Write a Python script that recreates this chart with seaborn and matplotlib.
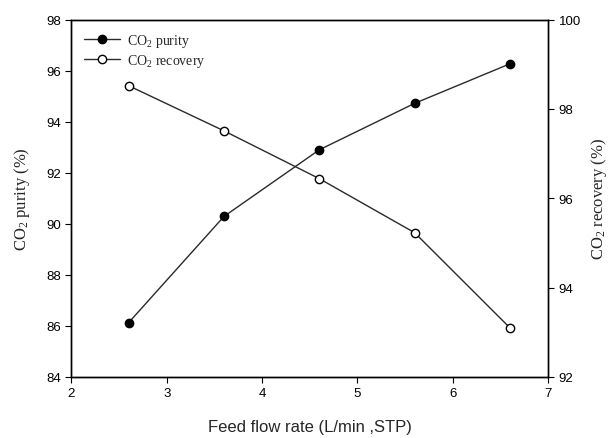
import matplotlib
matplotlib.use("Agg")
import matplotlib.pyplot as plt
import seaborn as sns
import pandas as pd
from matplotlib.lines import Line2D

flow_rate = [2.6, 3.6, 4.6, 5.6, 6.6]
co2_purity = [86.13, 90.29, 92.90, 94.72, 96.27]
co2_recovery = [98.52, 97.51, 96.44, 95.23, 93.10]
x_ticks = [2, 3, 4, 5, 6, 7]
left_ticks = [84, 86, 88, 90, 92, 94, 96, 98]
right_ticks = [92, 94, 96, 98, 100]

sns.set_style("ticks")
plt.rcParams['font.family'] = ['Liberation Sans', 'DejaVu Sans']
plt.rcParams['mathtext.default'] = 'regular'

df = pd.DataFrame({"flow": flow_rate, "purity": co2_purity, "recovery": co2_recovery})

fig = plt.figure(figsize=(6.11, 4.39), dpi=100)
ax = fig.add_axes([0.117, 0.139, 0.780, 0.814])
ax2 = ax.twinx()

lc = "#2a2a2a"
sns.lineplot(data=df, x="flow", y="purity", ax=ax, color=lc, lw=1.0,
             marker="o", markersize=6, markerfacecolor="black",
             markeredgecolor="black", markeredgewidth=1.0)
sns.lineplot(data=df, x="flow", y="recovery", ax=ax2, color=lc, lw=1.0,
             marker="o", markersize=6, markerfacecolor="white",
             markeredgecolor="black", markeredgewidth=1.0)

ax.set_xlim(2, 7)
ax.set_ylim(84, 98)
ax2.set_ylim(92, 100)
ax.set_xticks(x_ticks)
ax.set_yticks(left_ticks)
ax2.set_yticks(right_ticks)

for a in (ax, ax2):
    for s in a.spines.values():
        s.set_visible(True)
        s.set_linewidth(1.0)
        s.set_color("black")
    a.tick_params(direction="out", length=4, width=0.8, labelsize=9.5, colors="black")

ax.set_xlabel("Feed flow rate (L/min ,STP)", fontsize=12, labelpad=14)
ax.set_ylabel("CO$_2$ purity (%)", fontsize=12, family=['Liberation Serif'], labelpad=10)
ax2.set_ylabel("CO$_2$ recovery (%)", fontsize=12, family=['Liberation Serif'],
               rotation=90, labelpad=6)

handles = [
    Line2D([], [], color=lc, lw=1.0, marker="o", markersize=6,
           markerfacecolor="black", markeredgecolor="black"),
    Line2D([], [], color=lc, lw=1.0, marker="o", markersize=6,
           markerfacecolor="white", markeredgecolor="black"),
]
ax.legend(handles, ["CO$_2$ purity", "CO$_2$ recovery"], loc="upper left",
          frameon=False, prop={'family': 'Liberation Serif', 'size': 10},
          handlelength=2.6, handletextpad=0.5, borderaxespad=0.5, labelspacing=0.2)

fig.savefig("out.png", dpi=100)
